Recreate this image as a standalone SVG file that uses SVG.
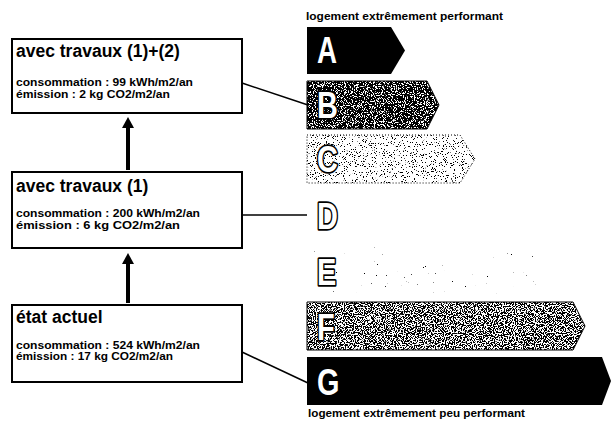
<svg xmlns="http://www.w3.org/2000/svg" width="612" height="427" viewBox="0 0 612 427">
<defs>
<style>
.box{fill:#fff;stroke:#000;stroke-width:2}
.title{font-family:"Liberation Sans",Arial,sans-serif;font-weight:bold;font-size:17.5px;fill:#000}
.small{font-family:"Liberation Sans",Arial,sans-serif;font-weight:bold;font-size:11px;fill:#000}
.lbl{font-family:"Liberation Sans",Arial,sans-serif;font-weight:bold;font-size:10.5px;fill:#000}
.conn{stroke:#000;stroke-width:1.5;fill:none}
.shaft{stroke:#000;stroke-width:4;fill:none}
.let{font-family:"Liberation Sans",Arial,sans-serif;font-weight:bold;font-size:37px}
.lw{fill:#fff}
.lo{fill:#fff;stroke:#000;stroke-width:3.5;paint-order:stroke;stroke-linejoin:round}
</style>
<filter id="nB" x="0" y="0" width="1" height="1" color-interpolation-filters="sRGB">
<feTurbulence type="fractalNoise" baseFrequency="0.9" numOctaves="2" seed="3" result="t"/>
<feColorMatrix in="t" type="matrix" values="0 0 0 0 0 0 0 0 0 0 0 0 0 0 0 -30 0 0 0 17.5" result="d"/>
<feComposite in="d" in2="SourceGraphic" operator="in"/>
</filter>
<filter id="nC" x="0" y="0" width="1" height="1" color-interpolation-filters="sRGB">
<feTurbulence type="fractalNoise" baseFrequency="0.9" numOctaves="2" seed="7" result="t"/>
<feColorMatrix in="t" type="matrix" values="0 0 0 0 0 0 0 0 0 0 0 0 0 0 0 -30 0 0 0 11" result="d"/>
<feComposite in="d" in2="SourceGraphic" operator="in"/>
</filter>
<filter id="nE" x="0" y="0" width="1" height="1" color-interpolation-filters="sRGB">
<feTurbulence type="fractalNoise" baseFrequency="0.9" numOctaves="2" seed="11" result="t"/>
<feColorMatrix in="t" type="matrix" values="0 0 0 0 0 0 0 0 0 0 0 0 0 0 0 -30 0 0 0 6.2" result="d"/>
<feComposite in="d" in2="SourceGraphic" operator="in"/>
</filter>
<filter id="nF" x="0" y="0" width="1" height="1" color-interpolation-filters="sRGB">
<feTurbulence type="fractalNoise" baseFrequency="0.9" numOctaves="2" seed="5" result="t"/>
<feColorMatrix in="t" type="matrix" values="0 0 0 0 0 0 0 0 0 0 0 0 0 0 0 -30 0 0 0 15.5" result="d"/>
<feComposite in="d" in2="SourceGraphic" operator="in"/>
</filter>
</defs>
<rect width="612" height="427" fill="#fff"/>

<g id="connectors">
<line class="shaft" x1="128" y1="170" x2="128" y2="126"/>
<path d="M122,128 L128,117 L134,128 Z" fill="#000"/>
<line class="shaft" x1="128" y1="303" x2="128" y2="262"/>
<path d="M122,264 L128,253 L134,264 Z" fill="#000"/>
<line class="conn" x1="242" y1="83" x2="308" y2="105"/>
<line class="conn" x1="242" y1="215" x2="307" y2="215"/>
<line class="conn" x1="242" y1="352" x2="308" y2="383"/>
</g>

<g id="box1">
<rect class="box" x="12" y="39" width="230" height="74"/>
<text class="title" x="16" y="57">avec travaux (1)+(2)</text>
<text class="small" x="16" y="86" textLength="177" lengthAdjust="spacingAndGlyphs">consommation : 99 kWh/m2/an</text>
<text class="small" x="16" y="98" textLength="154" lengthAdjust="spacingAndGlyphs">émission : 2 kg CO2/m2/an</text>
</g>

<g id="box2">
<rect class="box" x="12" y="172" width="230" height="76"/>
<text class="title" x="16" y="192">avec travaux (1)</text>
<text class="small" x="16" y="217" textLength="184" lengthAdjust="spacingAndGlyphs">consommation : 200 kWh/m2/an</text>
<text class="small" x="16" y="229" textLength="164" lengthAdjust="spacingAndGlyphs">émission : 6 kg CO2/m2/an</text>
</g>

<g id="box3">
<rect class="box" x="12" y="305" width="230" height="77"/>
<text class="title" x="16" y="323">état actuel</text>
<text class="small" x="16" y="349" textLength="184" lengthAdjust="spacingAndGlyphs">consommation : 524 kWh/m2/an</text>
<text class="small" x="16" y="360" textLength="157" lengthAdjust="spacingAndGlyphs">émission : 17 kg CO2/m2/an</text>
</g>

<g id="label-top">
<text class="lbl" x="306" y="20" textLength="197" lengthAdjust="spacingAndGlyphs">logement extrêmement performant</text>
</g>

<g id="class-A">
<path d="M307,27 H391 L405,50.5 L391,74 H307 Z" fill="#000"/>
<text class="let lw" transform="translate(317,63) scale(0.75,1)">A</text>
</g>

<g id="class-B">
<path d="M307,81 H427 L439,105 L427,129 H307 Z" fill="#fff" stroke="#000" stroke-width="1"/>
<path d="M307,81 H427 L439,105 L427,129 H307 Z" fill="#000" filter="url(#nB)"/>
<text class="let lo" transform="translate(317,118) scale(0.78,1)">B</text>
</g>

<g id="class-C">
<path d="M307,135 H460 L475,159 L460,183 H307 Z" fill="#fff" stroke="#000" stroke-width="1" stroke-dasharray="1 2"/>
<path d="M307,135 H460 L475,159 L460,183 H307 Z" fill="#000" filter="url(#nC)"/>
<text class="let lo" transform="translate(317,172) scale(0.78,1)">C</text>
</g>

<g id="class-D">
<text class="let lo" transform="translate(317,229) scale(0.78,1)">D</text>
</g>

<g id="class-E">
<path d="M307,247 H530 L543,270.5 L530,294 H307 Z" fill="#000" filter="url(#nE)"/>
<text class="let lo" transform="translate(317,285) scale(0.78,1)">E</text>
</g>

<g id="class-F">
<path d="M307,302 H573 L585,326 L573,350 H307 Z" fill="#fff" stroke="#000" stroke-width="1"/>
<path d="M307,302 H573 L585,326 L573,350 H307 Z" fill="#000" filter="url(#nF)"/>
<text class="let lo" transform="translate(317,340) scale(0.78,1)">F</text>
</g>

<g id="class-G">
<path d="M307,357 H602 L611,381 L602,405 H307 Z" fill="#000"/>
<text class="let lw" transform="translate(317,395) scale(0.78,1)">G</text>
</g>

<g id="label-bottom">
<text class="lbl" x="308" y="417" textLength="217" lengthAdjust="spacingAndGlyphs">logement extrêmement peu performant</text>
</g>
</svg>
